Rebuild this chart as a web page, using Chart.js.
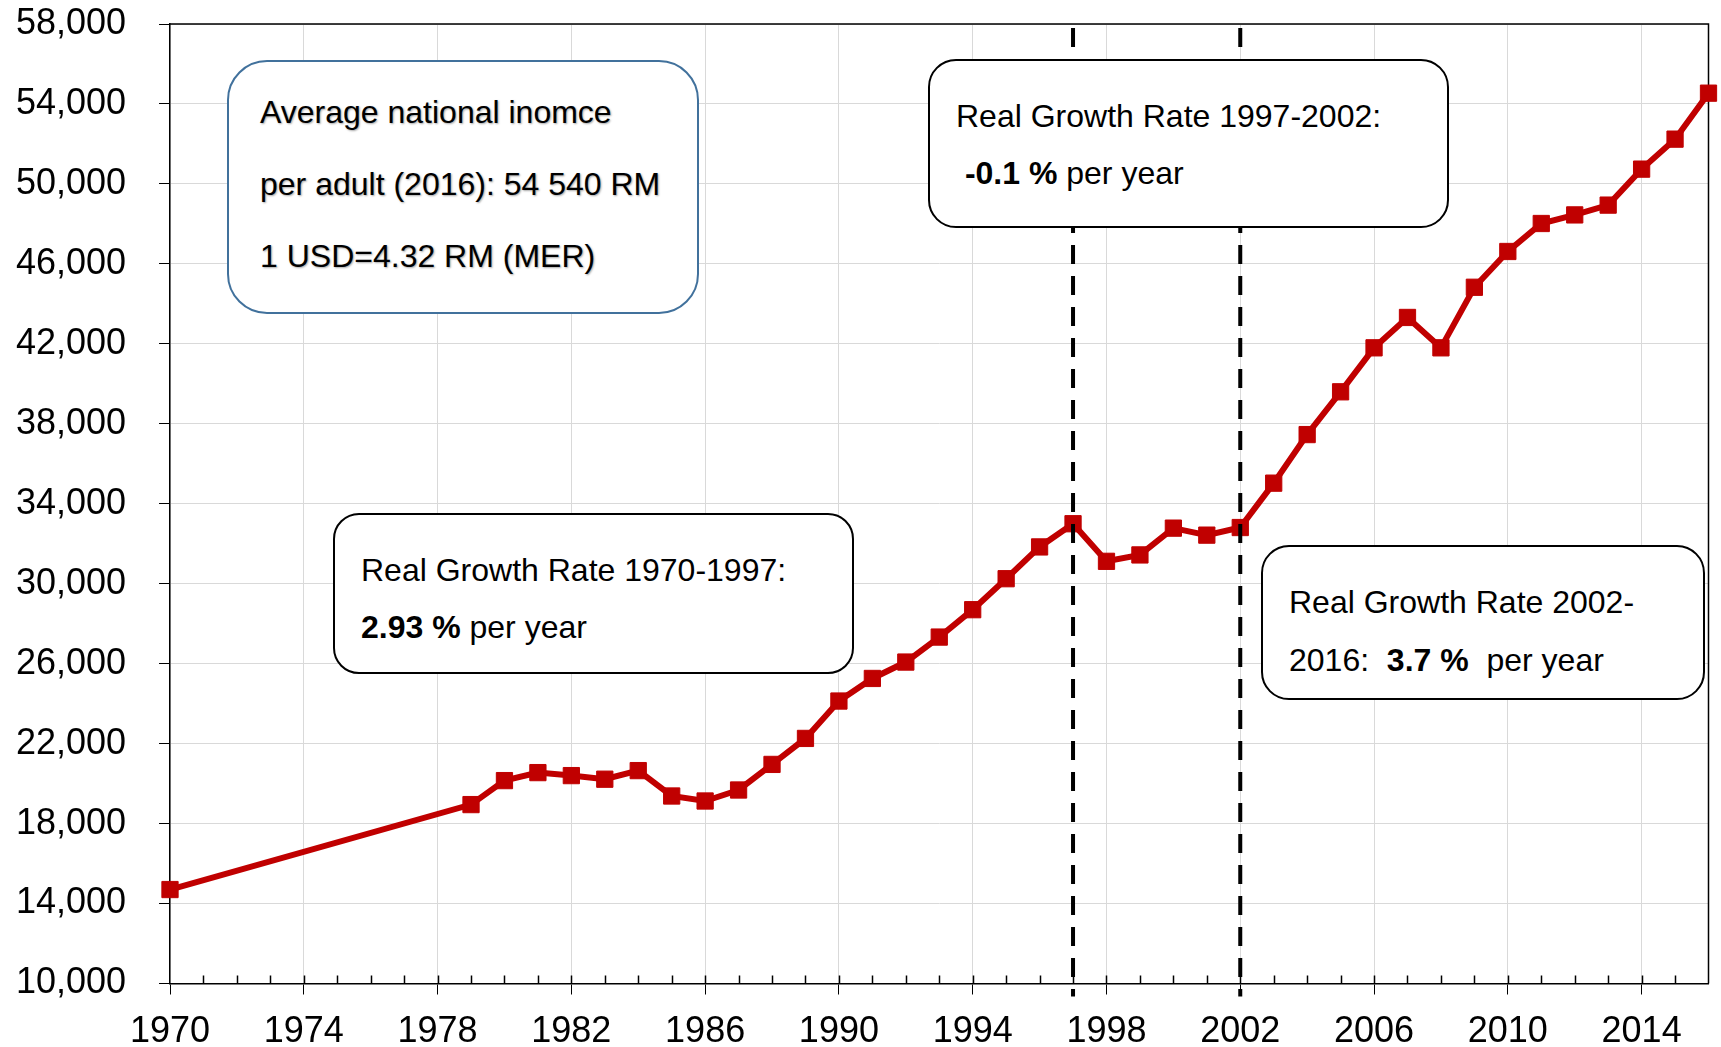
<!DOCTYPE html>
<html>
<head>
<meta charset="utf-8">
<script src="https://cdn.jsdelivr.net/npm/chart.js@4.4.1/dist/chart.umd.min.js"></script>
<style>
    html, body { margin: 0; padding: 0; background: #fff; }
    #wrap { position: relative; width: 1721px; height: 1047px; font-family: "Liberation Sans", Arial, sans-serif; }
    #chart { position: absolute; left: 0; top: 0; }
    .note {
        position: absolute;
        box-sizing: border-box;
        background: #fff;
        border: 2.5px solid #000;
        font-size: 32px;
        color: #000;
        white-space: nowrap;
    }
    .note b { font-weight: bold; }
    #note1 { left: 227px; top: 60px; width: 472px; height: 254px; border: 2px solid #41719c; border-radius: 40px;
             padding: 14px 0 0 31px; line-height: 72px; text-shadow: 1px 1px 2px rgba(0,0,0,0.35); }
    #note2 { left: 928px; top: 59px; width: 521px; height: 169px; border-radius: 28px; padding: 27px 0 0 26px; line-height: 57px; }
    #note3 { left: 333px; top: 513px; width: 521px; height: 161px; border-radius: 26px; padding: 27px 0 0 26px; line-height: 57px; }
    #note4 { left: 1261px; top: 545px; width: 444px; height: 155px; border-radius: 28px; padding: 26px 0 0 26px; line-height: 58px; }
</style>
</head>
<body>
<div id="wrap">
    <canvas id="chart" width="1721" height="1047"></canvas>
    <div class="note" id="note1">
        <div>Average national inomce</div>
        <div>per adult (2016): 54 540 RM</div>
        <div>1 USD=4.32 RM (MER)</div>
    </div>
    <div class="note" id="note2">
        <div>Real Growth Rate 1997-2002:</div>
        <div>&nbsp;<b>-0.1 %</b> per year</div>
    </div>
    <div class="note" id="note3">
        <div>Real Growth Rate 1970-1997:</div>
        <div><b>2.93 %</b> per year</div>
    </div>
    <div class="note" id="note4">
        <div>Real Growth Rate 2002-</div>
        <div>2016:&nbsp; <b>3.7 %</b>&nbsp; per year</div>
    </div>
</div>
<script>
// Data
const years = [1970, 1979, 1980, 1981, 1982, 1983, 1984, 1985, 1986, 1987, 1988, 1989,
    1990, 1991, 1992, 1993, 1994, 1995, 1996, 1997, 1998, 1999, 2000, 2001, 2002,
    2003, 2004, 2005, 2006, 2007, 2008, 2009, 2010, 2011, 2012, 2013, 2014, 2015, 2016];
const income = [14700, 18950, 20150, 20550, 20400, 20220, 20650, 19380, 19130, 19680, 20960, 22260,
    24130, 25260, 26080, 27330, 28700, 30250, 31840, 33000, 31120, 31440, 32780, 32430, 32810,
    35030, 37460, 39600, 41800, 43320, 41800, 44830, 46620, 48020, 48450, 48940, 50740, 52240, 54540];
const breakYears = [1997, 2002];
const xMin = 1970, xMax = 2016, xLabelStep = 4;
const yMin = 10000, yMax = 58000, yStep = 4000;

const isMajor = v => (v - xMin) % xLabelStep === 0;

// Frame, inward minor ticks and the dashed period markers
const extras = {
    id: 'extras',
    beforeDatasetsDraw(chart) {
        const { ctx, chartArea: a, scales: { x } } = chart;
        ctx.save();
        ctx.strokeStyle = '#000';
        ctx.lineWidth = 1.5;
        ctx.beginPath();
        ctx.moveTo(a.left, a.top);
        ctx.lineTo(a.right, a.top);
        ctx.lineTo(a.right, a.bottom);
        for (let yr = xMin + 1; yr < xMax; yr++) {
            const px = Math.round(x.getPixelForValue(yr)) + 0.5;
            ctx.moveTo(px, a.bottom);
            ctx.lineTo(px, a.bottom - 8);
        }
        ctx.stroke();
        ctx.restore();
    },
    afterDatasetsDraw(chart) {
        const { ctx, chartArea: a, scales: { x } } = chart;
        ctx.save();
        ctx.strokeStyle = '#000';
        ctx.lineWidth = 4;
        ctx.setLineDash([19, 12]);
        breakYears.forEach(yr => {
            const px = x.getPixelForValue(yr);
            ctx.beginPath();
            ctx.moveTo(px, a.top + 4);
            ctx.lineTo(px, a.bottom + 13);
            ctx.stroke();
        });
        ctx.restore();
    }
};

const tickFont = { family: '"Liberation Sans", Arial, sans-serif', size: 36 };

new Chart(document.getElementById('chart'), {
    type: 'line',
    data: {
        datasets: [{
            data: years.map((yr, i) => ({ x: yr, y: income[i] })),
            borderColor: '#c00000',
            backgroundColor: '#c00000',
            borderWidth: 6,
            pointStyle: 'rect',
            pointRadius: 11.5,
            pointBorderWidth: 1,
            pointBackgroundColor: '#c00000',
            pointBorderColor: '#c00000',
            tension: 0,
            clip: false
        }]
    },
    options: {
        responsive: false,
        animation: false,
        layout: { padding: { left: 0, top: 24, right: 3, bottom: 0 } },
        plugins: { legend: { display: false }, tooltip: { enabled: false } },
        scales: {
            x: {
                type: 'linear',
                min: xMin,
                max: xMax,
                afterFit: s => { s.height = 63.5; s.paddingLeft = 0; s.paddingRight = 0; },
                ticks: {
                    stepSize: 1,
                    autoSkip: false,
                    maxRotation: 0,
                    minRotation: 0,
                    padding: 16,
                    color: '#000',
                    font: tickFont,
                    callback: v => isMajor(v) ? String(v) : ''
                },
                grid: {
                    color: c => (c.tick && isMajor(c.tick.value)) ? '#d9d9d9' : 'rgba(0,0,0,0)',
                    tickColor: c => (c.tick && isMajor(c.tick.value)) ? '#000' : 'rgba(0,0,0,0)',
                    tickLength: 11,
                    lineWidth: 1
                },
                border: { color: '#000', width: 1.5 }
            },
            y: {
                min: yMin,
                max: yMax,
                afterFit: s => { s.width = 170; s.paddingTop = 0; s.paddingBottom = 0; },
                ticks: {
                    stepSize: yStep,
                    padding: 33,
                    color: '#000',
                    font: tickFont,
                    callback: v => v.toLocaleString('en-US')
                },
                grid: { color: '#d9d9d9', tickColor: '#000', tickLength: 11, lineWidth: 1 },
                border: { color: '#000', width: 1.5 }
            }
        }
    },
    plugins: [extras]
});
</script>
</body>
</html>
